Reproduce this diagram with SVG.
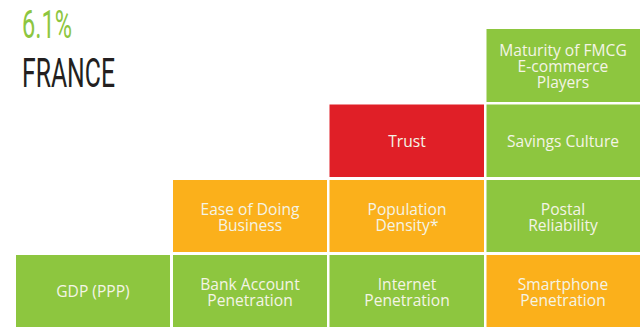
<svg xmlns="http://www.w3.org/2000/svg" width="643" height="330" viewBox="0 0 643 330">
<style>
.g{fill:#8DC63F}
.o{fill:#FBB01B}
.r{fill:#E01F27}
.t{font-family:"Open Sans","Liberation Sans",sans-serif;font-size:15.6px;fill:#F4F4E6;text-anchor:middle}
</style>
<rect width="643" height="330" fill="#FFFFFF"/>
<g id="title">
<text x="22" y="38" font-family="Roboto,'Liberation Sans',sans-serif" font-weight="400" font-size="39" fill="#8DC63F" textLength="50" lengthAdjust="spacingAndGlyphs">6.1%</text>
<text x="22" y="87" font-family="Roboto,'Liberation Sans',sans-serif" font-weight="400" font-size="40" fill="#231F20" textLength="93" lengthAdjust="spacingAndGlyphs">FRANCE</text>
</g>
<g id="maturity"><rect class="g" x="486.5" y="29" width="153.5" height="73"/><text class="t" x="563" y="56">Maturity of FMCG</text><text class="t" x="563" y="72">E-commerce</text><text class="t" x="563" y="88">Players</text></g>
<g id="trust"><rect class="r" x="329.5" y="104.5" width="154.5" height="72.5"/><text class="t" x="407" y="147">Trust</text></g>
<g id="savings"><rect class="g" x="486.5" y="104.5" width="153.5" height="72.5"/><text class="t" x="563" y="147">Savings Culture</text></g>
<g id="ease"><rect class="o" x="173" y="180" width="154" height="72"/><text class="t" x="250" y="214.5">Ease of Doing</text><text class="t" x="250" y="230.5">Business</text></g>
<g id="population"><rect class="o" x="329.5" y="180" width="154.5" height="72"/><text class="t" x="407" y="214.5">Population</text><text class="t" x="407" y="230.5">Density*</text></g>
<g id="postal"><rect class="g" x="486.5" y="180" width="153.5" height="72"/><text class="t" x="563" y="214.5">Postal</text><text class="t" x="563" y="230.5">Reliability</text></g>
<g id="gdp"><rect class="g" x="16" y="255" width="154" height="72"/><text class="t" x="93" y="297">GDP (PPP)</text></g>
<g id="bank"><rect class="g" x="173" y="255" width="154" height="72"/><text class="t" x="250" y="289.5">Bank Account</text><text class="t" x="250" y="305.5">Penetration</text></g>
<g id="internet"><rect class="g" x="329.5" y="255" width="154.5" height="72"/><text class="t" x="407" y="289.5">Internet</text><text class="t" x="407" y="305.5">Penetration</text></g>
<g id="smartphone"><rect class="o" x="486.5" y="255" width="153.5" height="72"/><text class="t" x="563" y="289.5">Smartphone</text><text class="t" x="563" y="305.5">Penetration</text></g>
<g id="connectors"></g>
</svg>
